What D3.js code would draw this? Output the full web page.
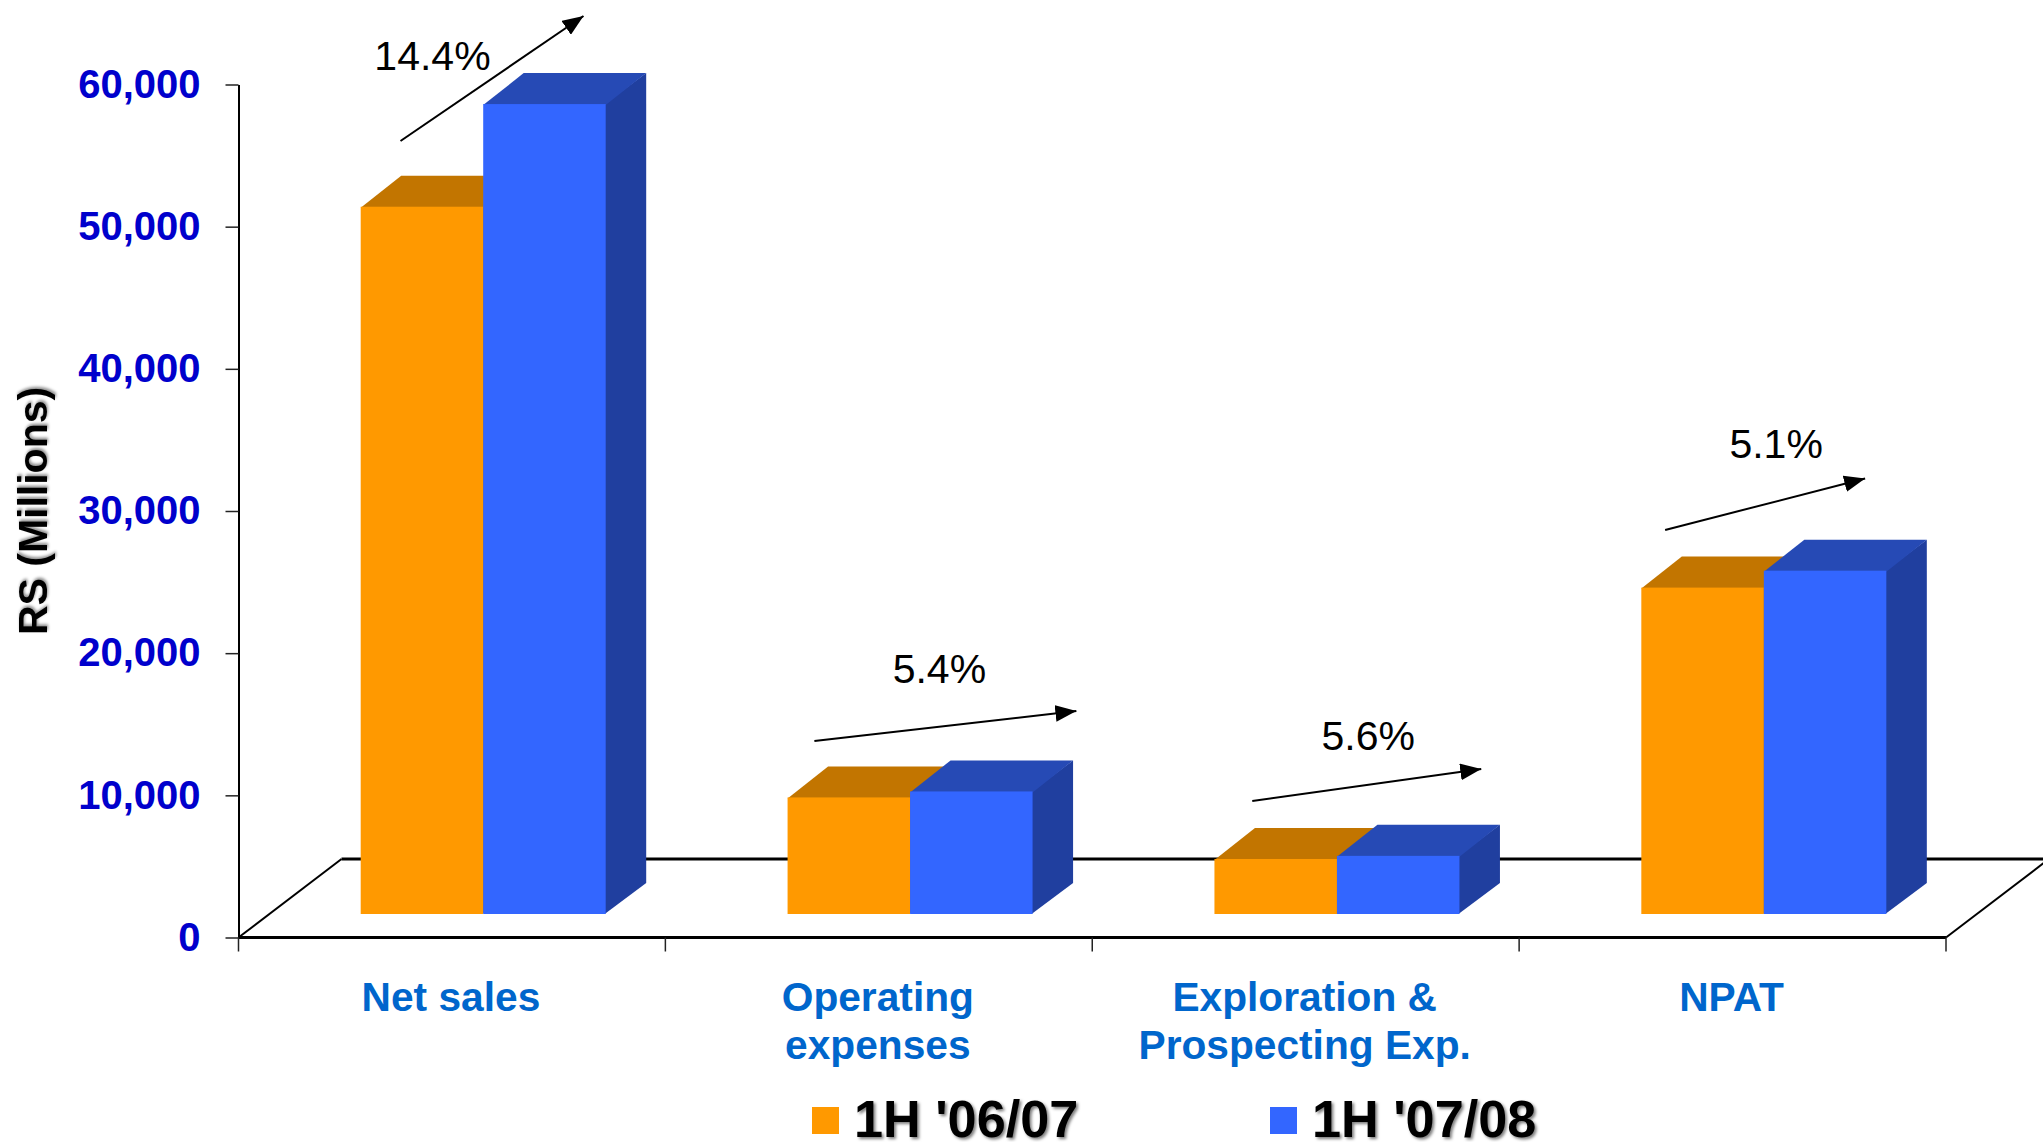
<!DOCTYPE html>
<html>
<head>
    <title>Net sales, expenses and NPAT</title>
    <script src="https://d3js.org/d3.v7.min.js"></script>
    <style>
        html, body { margin: 0; padding: 0; background: #fff; }
        svg { display: block; }
        text { font-family: "Liberation Sans", Arial, sans-serif; }
    </style>
</head>
<body>
    <svg width="2043" height="1142"></svg>

    <script>
        // Values, Rs millions
        var categories = [["Net sales"], ["Operating", "expenses"], ["Exploration &", "Prospecting Exp."], ["NPAT"]];
        var seriesNames = ["1H '06/07", "1H '07/08"];
        var firstHalf0607 = [49750, 8200, 3870, 22960];
        var firstHalf0708 = [56970, 8620, 4090, 24150];
        var growthLabels = ["14.4%", "5.4%", "5.6%", "5.1%"];
        var yTicks = [0, 10000, 20000, 30000, 40000, 50000, 60000];

        var colors = {
            front: ["#ff9900", "#3366ff"],
            top: ["#c27500", "#264ab5"],
            side: ["#a66400", "#203f9f"]
        };

        var svg = d3.select("svg");
        var keys = categories.map(function(c) { return c.join(" "); });

        // Set the ranges
        var x = d3.scaleBand().domain(keys).range([238.5, 1946]);
        var xInner = d3.scaleBand().domain(seriesNames).range([122.2, 367.2]);
        var y = d3.scaleLinear().domain([0, 60000]).range([937.5, 84.5]);

        // Depth of the fake 3D floor and of the bars
        var floorDx = 103, floorDy = -78.5;
        var barDx = 40.5, barDy = -31;
        var barBase = y(0) - 23.5;
        var barHeight = function(v) { return y(0) - y(v); };

        // Floor
        var right = x.range()[1], zero = y(0);
        var floorLines = [
            {d: "M" + [238.5, zero] + "L" + [238.5 + floorDx, zero + floorDy], w: 2},
            {d: "M" + [238.5 + floorDx, zero + floorDy] + "L2043," + (zero + floorDy), w: 3},
            {d: "M" + [238.5, zero] + "L" + [right, zero], w: 3},
            {d: "M" + [right, zero] + "L" + [right + floorDx, zero + floorDy], w: 2}
        ];
        svg.selectAll(".floor").data(floorLines).enter().append("path")
            .attr("class", "floor")
            .attr("d", function(d) { return d.d; })
            .attr("fill", "none").attr("stroke", "#000")
            .attr("stroke-width", function(d) { return d.w; });

        // Y axis
        var yAxis = svg.append("g")
            .attr("transform", "translate(238.5,0)")
            .call(d3.axisLeft(y).tickValues(yTicks).tickSize(13).tickPadding(25).tickSizeOuter(0).tickFormat(d3.format(",")));
        yAxis.select(".domain").attr("stroke", "#000").attr("stroke-width", 2);
        yAxis.selectAll(".tick line").attr("stroke", "#222").attr("stroke-width", 1.5);
        yAxis.selectAll("text")
            .attr("fill", "#0000cc").attr("font-size", 40).attr("font-weight", "bold")
            .attr("font-family", "Liberation Sans");

        // X ticks sit on the band edges
        var xEdges = keys.map(function(k) { return x(k); }).concat([right]);
        svg.selectAll(".xtick").data(xEdges).enter().append("line")
            .attr("class", "xtick")
            .attr("x1", function(d) { return d; }).attr("x2", function(d) { return d; })
            .attr("y1", zero).attr("y2", zero + 14)
            .attr("stroke", "#222").attr("stroke-width", 1.5);

        // Bars, one group per category
        var barData = keys.map(function(k, i) {
            return [
                {key: k, s: seriesNames[0], i: 0, v: firstHalf0607[i]},
                {key: k, s: seriesNames[1], i: 1, v: firstHalf0708[i]}
            ];
        });
        var groups = svg.selectAll(".group").data(barData).enter().append("g")
            .attr("class", "group")
            .attr("transform", function(d) { return "translate(" + x(d[0].key) + "," + barBase + ")"; });

        groups.each(function(pair) {
            var g = d3.select(this);
            pair.forEach(function(d) {
                var x0 = xInner(d.s), w = xInner.bandwidth(), h = barHeight(d.v);
                // side starts a little behind the front so no floor line shows in the seam
                g.append("path")
                    .attr("d", "M" + [x0 + w - 1, 0] + "L" + [x0 + w + barDx, barDy] + "L" + [x0 + w + barDx, barDy - h] + "L" + [x0 + w - 1, -h] + "Z")
                    .attr("fill", colors.side[d.i]);
                g.append("path")
                    .attr("d", "M" + [x0, -h + 1] + "L" + [x0 + barDx, barDy - h] + "L" + [x0 + w + barDx, barDy - h] + "L" + [x0 + w, -h + 1] + "Z")
                    .attr("fill", colors.top[d.i]);
            });
            pair.forEach(function(d) {
                g.append("rect")
                    .attr("x", xInner(d.s)).attr("y", -barHeight(d.v))
                    .attr("width", xInner.bandwidth()).attr("height", barHeight(d.v))
                    .attr("fill", colors.front[d.i]);
            });
        });

        // Category labels
        var labels = svg.selectAll(".cat").data(categories).enter().append("text")
            .attr("class", "cat")
            .attr("text-anchor", "middle")
            .attr("font-size", 40.7).attr("font-weight", "bold").attr("fill", "#0066cc");
        labels.selectAll("tspan").data(function(d) { return d; }).enter().append("tspan")
            .attr("x", function() { return x(d3.select(this.parentNode).datum().join(" ")) + x.bandwidth() / 2 - 1; })
            .attr("y", function(d, i) { return 1011 + i * 48; })
            .text(function(d) { return d; });

        // Growth arrows, offsets from the left of each group
        var arrowFrom = [[162, 141], [149, 741], [160, 801], [146, 530]];
        var arrowTo = [[345, 16], [411, 711], [389, 769], [346, 478.5]];
        var growthAt = [[194, 70], [274, 683], [276, 750], [257, 458]];

        svg.append("defs").append("marker")
            .attr("id", "head").attr("viewBox", "0 0 10 8")
            .attr("refX", 10).attr("refY", 4)
            .attr("markerWidth", 10.5).attr("markerHeight", 8.4).attr("orient", "auto")
            .attr("markerUnits", "strokeWidth")
          .append("path").attr("d", "M0,0L10,4L0,8Z").attr("fill", "#000");

        svg.selectAll(".arrow").data(keys).enter().append("line")
            .attr("class", "arrow")
            .attr("x1", function(k, i) { return x(k) + arrowFrom[i][0]; })
            .attr("y1", function(k, i) { return arrowFrom[i][1]; })
            .attr("x2", function(k, i) { return x(k) + arrowTo[i][0]; })
            .attr("y2", function(k, i) { return arrowTo[i][1]; })
            .attr("stroke", "#000").attr("stroke-width", 2)
            .attr("marker-end", "url(#head)");

        svg.selectAll(".growth").data(keys).enter().append("text")
            .attr("class", "growth")
            .attr("x", function(k, i) { return x(k) + growthAt[i][0]; })
            .attr("y", function(k, i) { return growthAt[i][1]; })
            .attr("text-anchor", "middle").attr("font-size", 41).attr("fill", "#000")
            .text(function(k, i) { return growthLabels[i]; });

        // Y axis title
        svg.append("text")
            .attr("transform", "translate(47,511) rotate(-90)")
            .attr("text-anchor", "middle")
            .attr("font-size", 41).attr("font-weight", "bold").attr("fill", "#000")
            .attr("style", "filter: drop-shadow(2px 1px 1.5px rgba(0,0,0,0.45))")
            .text("RS (Millions)");

        // Legend
        var legendX = d3.scaleOrdinal().domain(seriesNames).range([812, 1270]);
        var legend = svg.selectAll(".legend").data(seriesNames).enter().append("g")
            .attr("class", "legend")
            .attr("transform", function(d) { return "translate(" + legendX(d) + ",0)"; });
        legend.append("rect")
            .attr("x", 0).attr("y", 1107).attr("width", 27).attr("height", 27)
            .attr("fill", function(d, i) { return colors.front[i]; });
        legend.append("text")
            .attr("x", 42).attr("y", 1137)
            .attr("font-size", 52.2).attr("font-weight", "bold").attr("fill", "#000")
            .attr("style", "filter: drop-shadow(2px 2px 1.5px rgba(0,0,0,0.5))")
            .text(function(d) { return d; });
    </script>
</body>
</html>
